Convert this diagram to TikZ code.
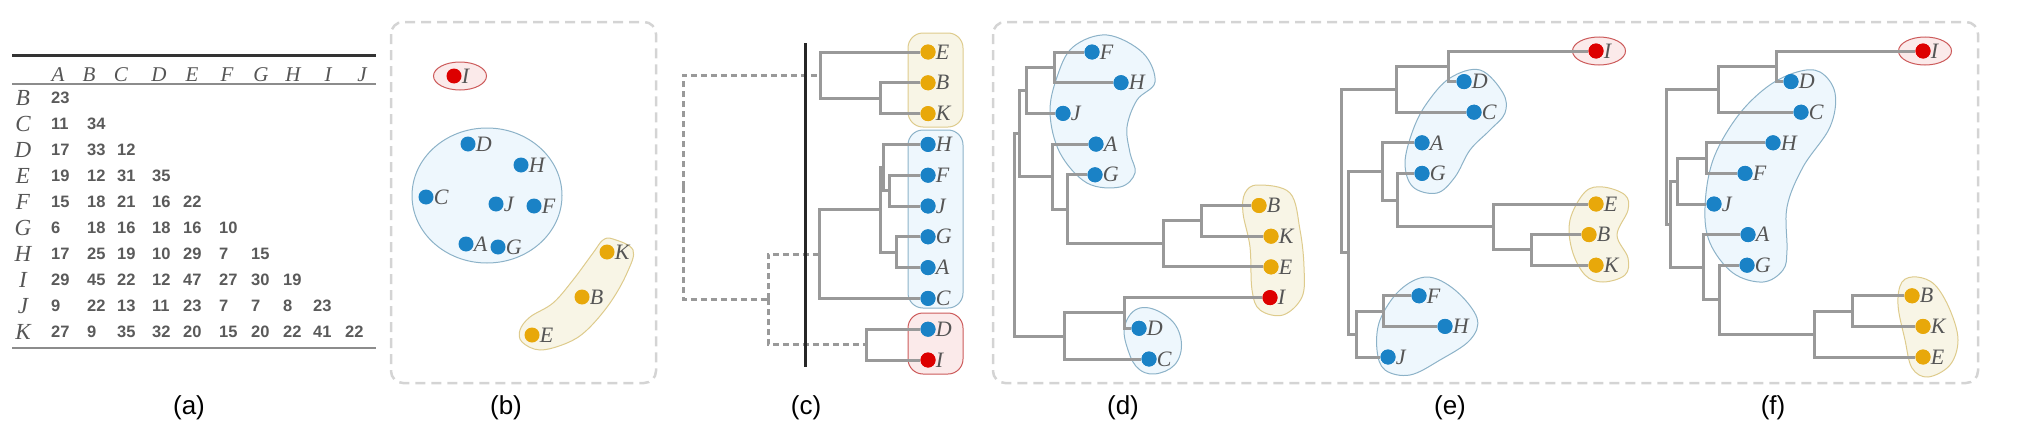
\documentclass[tikz,border=0pt]{standalone}
\usepackage{fontspec}
\setmainfont{Liberation Serif}
\newfontfamily\sansf{Liberation Sans}
\usetikzlibrary{calc}
\definecolor{dotblue}{HTML}{1A82C6}
\definecolor{dotyellow}{HTML}{E8A80A}
\definecolor{dotred}{HTML}{DD0000}
\definecolor{lettergray}{HTML}{555555}
\definecolor{numgray}{HTML}{5A5A5A}
\definecolor{treegray}{HTML}{999999}
\definecolor{boxgray}{HTML}{D4D4D4}
\definecolor{blobblue}{HTML}{EEF7FD}
\definecolor{blobblueedge}{HTML}{8CB2C8}
\definecolor{blobyellow}{HTML}{F8F5E6}
\definecolor{blobyellowedge}{HTML}{DECB8C}
\definecolor{blobred}{HTML}{FBEAEA}
\definecolor{blobrededge}{HTML}{CC5A5A}
\tikzset{
  leaf/.style={circle, inner sep=0pt, minimum size=15pt, label distance=2.5pt, label={[lbl]0:#1}},
  lbl/.style={inner sep=0pt, font=\fontsize{22}{22}\selectfont\itshape, text=lettergray},
  bl/.style={fill=dotblue}, yl/.style={fill=dotyellow}, rd/.style={fill=dotred},
  treeline/.style={draw=treegray, line width=3pt},
  dtree/.style={treeline, dash pattern=on 6pt off 4pt},
  panelbox/.style={draw=boxgray, line width=2.5pt, dash pattern=on 10pt off 6pt, rounded corners=12pt},
  bblob/.style={fill=blobblue, draw=blobblueedge, line width=1pt},
  yblob/.style={fill=blobyellow, draw=blobyellowedge, line width=1pt},
  rblob/.style={fill=blobred, draw=blobrededge, line width=1pt},
  hdr/.style={inner sep=0pt, font=\fontsize{21}{21}\selectfont\itshape, text=lettergray},
  rowlbl/.style={inner sep=0pt, font=\fontsize{23}{23}\selectfont\itshape, text=lettergray},
  num/.style={inner sep=0pt, anchor=west, font={\sansf\bfseries\fontsize{16.5}{16.5}\selectfont}, text=numgray},
  captxt/.style={inner sep=0pt, font={\sansf\fontsize{26}{26}\selectfont}, text=black}
}
\begin{document}
\begin{tikzpicture}[x=1pt,y=-1pt]
\useasboundingbox (0,0) rectangle (2024,447);

% ---------------- (a) table ----------------
\draw[line width=3pt, draw=black!80] (12,55) -- (376,55);
\draw[line width=1.5pt, draw=black!45] (12,84) -- (376,84);
\draw[line width=2pt, draw=black!45] (12,348) -- (376,348);
\foreach \L/\x in {A/58,B/89,C/121,D/159,E/192,F/227,G/261,H/293,I/328,J/362}
  \node[hdr] (h-\L) at (\x,75) {\L};
\foreach \r/\y/\vals in {B/98/{23}, C/124/{11,34}, D/150/{17,33,12}, E/176/{19,12,31,35},
   F/202/{15,18,21,16,22}, G/228/{6,18,16,18,16,10}, H/254/{17,25,19,10,29,7,15},
   I/280/{29,45,22,12,47,27,30,19}, J/306/{9,22,13,11,23,7,7,8,23},
   K/332/{27,9,35,32,20,15,20,22,41,22}} {
  \node[rowlbl] (r-\r) at (23,\y) {\r};
  \foreach \v [count=\c] in \vals {
    \pgfmathsetmacro\xx{{51,87,117,152,183,219,251,283,313,345}[\c-1]}
    \node[num] (t-\r-\c) at (\xx,\y) {\v};
  }
}

% ---------------- boxes ----------------
\draw[panelbox] (391,22) rectangle (656,383);
\draw[panelbox] (993,22) rectangle (1978,383);

% ---------------- (b) ----------------
\draw[rblob] (460,76) ellipse [x radius=26.5, y radius=14];
\draw[bblob] (487,195.5) ellipse [x radius=75, y radius=67.5];
\draw[yblob] plot[smooth cycle, tension=0.6] coordinates {(613,239) (633,250) (627,273) (610,303) (587,330) (567,343) (540,350) (522,342) (520,330) (530,317) (553,303) (573,280) (593,253) (603,240)};
\node[leaf=I, rd] (b-I) at (454,76) {};
\node[leaf=D, bl] (b-D) at (468,144) {};
\node[leaf=H, bl] (b-H) at (521,165) {};
\node[leaf=C, bl] (b-C) at (426,197) {};
\node[leaf=J, bl] (b-J) at (496,204) {};
\node[leaf=F, bl] (b-F) at (534,206) {};
\node[leaf=A, bl] (b-A) at (466,244) {};
\node[leaf=G, bl] (b-G) at (498,247) {};
\node[leaf=K, yl] (b-K) at (607,252) {};
\node[leaf=B, yl] (b-B) at (582,297) {};
\node[leaf=E, yl] (b-E) at (532,335) {};

% ---------------- (c) ----------------
\draw[yblob, rounded corners=15pt] (908,33) rectangle (963,127);
\draw[bblob, rounded corners=15pt] (908,130) rectangle (963,308);
\draw[rblob, rounded corners=15pt] (908,313) rectangle (963,374);
\node[leaf=E, yl] (c-E) at (928,52) {};
\node[leaf=B, yl] (c-B) at (928,82.8) {};
\node[leaf=K, yl] (c-K) at (928,113.6) {};
\node[leaf=H, bl] (c-H) at (928,144.4) {};
\node[leaf=F, bl] (c-F) at (928,175.2) {};
\node[leaf=J, bl] (c-J) at (928,206) {};
\node[leaf=G, bl] (c-G) at (928,236.8) {};
\node[leaf=A, bl] (c-A) at (928,267.6) {};
\node[leaf=C, bl] (c-C) at (928,298.4) {};
\node[leaf=D, bl] (c-D) at (928,329.2) {};
\node[leaf=I, rd] (c-I) at (928,360) {};
\coordinate (cBK) at (880,98.2);
\coordinate (cEBK) at (820,75.1);
\coordinate (cFJ) at (889,190.6);
\coordinate (cHFJ) at (883,167.5);
\coordinate (cGA) at (896,252.2);
\coordinate (cHA) at (880,209.85);
\coordinate (cBlue) at (819,254.1);
\coordinate (cDI) at (866,344.6);
\coordinate (cLow) at (768,299.35);
\coordinate (cR) at (683,187.2);
\coordinate (cTop) at (805,43);
\coordinate (cBot) at (805,367);
\draw[dtree] (cR) |- (cEBK);
\draw[dtree] (cR) |- (cLow);
\draw[dtree] (cLow) |- (cBlue);
\draw[dtree] (cLow) |- (cDI);
\draw[treeline] (cBK) |- (c-B); \draw[treeline] (cBK) |- (c-K);
\draw[treeline] (cEBK) |- (c-E); \draw[treeline] (cEBK) |- (cBK);
\draw[treeline] (cFJ) |- (c-F); \draw[treeline] (cFJ) |- (c-J);
\draw[treeline] (cHFJ) |- (c-H); \draw[treeline] (cHFJ) |- (cFJ);
\draw[treeline] (cGA) |- (c-G); \draw[treeline] (cGA) |- (c-A);
\draw[treeline] (cHA) |- (cHFJ); \draw[treeline] (cHA) |- (cGA);
\draw[treeline] (cBlue) |- (cHA); \draw[treeline] (cBlue) |- (c-C);
\draw[treeline] (cDI) |- (c-D); \draw[treeline] (cDI) |- (c-I);
\draw[line width=3pt, draw=black!85] (cTop) -- (cBot);
\foreach \n in {E,B,K} \fill[dotyellow] (c-\n) circle (7.5);
\foreach \n in {H,F,J,G,A,C,D} \fill[dotblue] (c-\n) circle (7.5);
\fill[dotred] (c-I) circle (7.5);

% ---------------- (d) ----------------
\draw[bblob] plot[smooth cycle, tension=0.6] coordinates {(1107,35) (1143,53) (1155,82) (1137,100) (1127,127) (1130,153) (1135,173) (1120,187) (1087,183) (1060,153) (1050,113) (1057,77) (1073,47)};
\draw[yblob] plot[smooth cycle, tension=0.6] coordinates {(1258,185) (1290,193) (1300,230) (1304,267) (1302,297) (1283,315) (1260,310) (1252,290) (1250,247) (1243,213) (1245,193)};
\draw[bblob] plot[smooth cycle, tension=0.7] coordinates {(1140,308) (1165,315) (1180,335) (1178,360) (1160,373) (1140,370) (1128,350) (1125,325)};
\coordinate (dFH) at (1054,67.35);
\coordinate (dFHJ) at (1026,90.4);
\coordinate (dBK) at (1201,220.85);
\coordinate (dBKE) at (1163,243.9);
\coordinate (dGBKE) at (1067,209.35);
\coordinate (dAG) at (1052,176.7);
\coordinate (dTop) at (1019,133.55);
\coordinate (dDI) at (1124,312.95);
\coordinate (dDIC) at (1064,336);
\coordinate (dRoot) at (1014,234.8);
\node[leaf=F, bl] (d-F) at (1092,52) {};
\node[leaf=H, bl] (d-H) at (1121,82.7) {};
\node[leaf=J, bl] (d-J) at (1063,113.4) {};
\node[leaf=A, bl] (d-A) at (1096,144.1) {};
\node[leaf=G, bl] (d-G) at (1095,174.8) {};
\node[leaf=B, yl] (d-B) at (1259,205.5) {};
\node[leaf=K, yl] (d-K) at (1271,236.2) {};
\node[leaf=E, yl] (d-E) at (1271,266.9) {};
\node[leaf=I, rd] (d-I) at (1270,297.6) {};
\node[leaf=D, bl] (d-D) at (1139,328.3) {};
\node[leaf=C, bl] (d-C) at (1149,359) {};
\draw[treeline] (dFH) |- (d-F); \draw[treeline] (dFH) |- (d-H);
\draw[treeline] (dFHJ) |- (dFH); \draw[treeline] (dFHJ) |- (d-J);
\draw[treeline] (dBK) |- (d-B); \draw[treeline] (dBK) |- (d-K);
\draw[treeline] (dBKE) |- (dBK); \draw[treeline] (dBKE) |- (d-E);
\draw[treeline] (dGBKE) |- (d-G); \draw[treeline] (dGBKE) |- (dBKE);
\draw[treeline] (dAG) |- (d-A); \draw[treeline] (dAG) |- (dGBKE);
\draw[treeline] (dTop) |- (dFHJ); \draw[treeline] (dTop) |- (dAG);
\draw[treeline] (dDI) |- (d-I); \draw[treeline] (dDI) |- (d-D);
\draw[treeline] (dDIC) |- (dDI); \draw[treeline] (dDIC) |- (d-C);
\draw[treeline] (dRoot) |- (dTop); \draw[treeline] (dRoot) |- (dDIC);
\foreach \n in {F,H,J,A,G,D,C} \fill[dotblue] (d-\n) circle (7.5);
\foreach \n in {B,K,E} \fill[dotyellow] (d-\n) circle (7.5);
\fill[dotred] (d-I) circle (7.5);

% ---------------- (e) ----------------
\draw[rblob] (1599,51) ellipse [x radius=26.5, y radius=14];
\draw[bblob] plot[smooth cycle, tension=0.6] coordinates {(1480,70) (1503,93) (1505,113) (1490,130) (1470,150) (1455,177) (1437,193) (1413,187) (1405,163) (1413,130) (1427,103) (1450,78)};
\draw[yblob] plot[smooth cycle, tension=0.6] coordinates {(1603,187) (1625,195) (1628,210) (1617,235) (1628,258) (1625,275) (1603,282) (1585,275) (1572,250) (1570,220) (1585,192)};
\draw[bblob] plot[smooth cycle, tension=0.6] coordinates {(1427,277) (1455,290) (1477,318) (1470,340) (1440,360) (1410,375) (1385,370) (1377,350) (1380,320) (1400,290)};
\coordinate (eDI) at (1448,66.3);
\coordinate (eDIC) at (1396,89.25);
\coordinate (eBK) at (1531,249.9);
\coordinate (eEBK) at (1493,226.95);
\coordinate (eG) at (1397,200.2);
\coordinate (eA) at (1382,171.5);
\coordinate (eFH) at (1383,311.1);
\coordinate (eFHJ) at (1356,334.05);
\coordinate (eX) at (1348,252.8);
\coordinate (eRoot) at (1341,171);
\node[leaf=I, rd] (e-I) at (1596,51) {};
\node[leaf=D, bl] (e-D) at (1464,81.6) {};
\node[leaf=C, bl] (e-C) at (1474,112.2) {};
\node[leaf=A, bl] (e-A) at (1422,142.8) {};
\node[leaf=G, bl] (e-G) at (1422,173.4) {};
\node[leaf=E, yl] (e-E) at (1596,204) {};
\node[leaf=B, yl] (e-B) at (1589,234.6) {};
\node[leaf=K, yl] (e-K) at (1596,265.2) {};
\node[leaf=F, bl] (e-F) at (1419,295.8) {};
\node[leaf=H, bl] (e-H) at (1445,326.4) {};
\node[leaf=J, bl] (e-J) at (1388,357) {};
\draw[treeline] (eDI) |- (e-I); \draw[treeline] (eDI) |- (e-D);
\draw[treeline] (eDIC) |- (eDI); \draw[treeline] (eDIC) |- (e-C);
\draw[treeline] (eBK) |- (e-B); \draw[treeline] (eBK) |- (e-K);
\draw[treeline] (eEBK) |- (e-E); \draw[treeline] (eEBK) |- (eBK);
\draw[treeline] (eG) |- (e-G); \draw[treeline] (eG) |- (eEBK);
\draw[treeline] (eA) |- (e-A); \draw[treeline] (eA) |- (eG);
\draw[treeline] (eFH) |- (e-F); \draw[treeline] (eFH) |- (e-H);
\draw[treeline] (eFHJ) |- (eFH); \draw[treeline] (eFHJ) |- (e-J);
\draw[treeline] (eX) |- (eA); \draw[treeline] (eX) |- (eFHJ);
\draw[treeline] (eRoot) |- (eDIC); \draw[treeline] (eRoot) |- (eX);
\foreach \n in {D,C,A,G,F,H,J} \fill[dotblue] (e-\n) circle (7.5);
\foreach \n in {E,B,K} \fill[dotyellow] (e-\n) circle (7.5);
\fill[dotred] (e-I) circle (7.5);

% ---------------- (f) ----------------
\draw[rblob] (1925,51) ellipse [x radius=26.5, y radius=14];
\draw[bblob] plot[smooth cycle, tension=0.6] coordinates {(1820,72) (1835,93) (1830,127) (1803,167) (1787,207) (1787,250) (1783,270) (1763,282) (1733,273) (1710,243) (1705,207) (1713,160) (1737,117) (1767,87) (1797,72)};
\draw[yblob] plot[smooth cycle, tension=0.6] coordinates {(1917,277) (1935,285) (1950,310) (1958,340) (1950,365) (1928,377) (1912,368) (1905,340) (1898,305) (1902,282)};
\coordinate (fDI) at (1776,66.3);
\coordinate (fDIC) at (1718,89.25);
\coordinate (fHF) at (1706,158.1);
\coordinate (fHFJ) at (1677,181.05);
\coordinate (fBK) at (1852,311.1);
\coordinate (fBKE) at (1814,334.05);
\coordinate (fG) at (1719,299.6);
\coordinate (fA) at (1703,267.1);
\coordinate (fY) at (1670,224.1);
\coordinate (fRoot) at (1666,156.7);
\node[leaf=I, rd] (f-I) at (1923,51) {};
\node[leaf=D, bl] (f-D) at (1791,81.6) {};
\node[leaf=C, bl] (f-C) at (1801,112.2) {};
\node[leaf=H, bl] (f-H) at (1773,142.8) {};
\node[leaf=F, bl] (f-F) at (1745,173.4) {};
\node[leaf=J, bl] (f-J) at (1714,204) {};
\node[leaf=A, bl] (f-A) at (1748,234.6) {};
\node[leaf=G, bl] (f-G) at (1747,265.2) {};
\node[leaf=B, yl] (f-B) at (1912,295.8) {};
\node[leaf=K, yl] (f-K) at (1923,326.4) {};
\node[leaf=E, yl] (f-E) at (1923,357) {};
\draw[treeline] (fDI) |- (f-I); \draw[treeline] (fDI) |- (f-D);
\draw[treeline] (fDIC) |- (fDI); \draw[treeline] (fDIC) |- (f-C);
\draw[treeline] (fHF) |- (f-H); \draw[treeline] (fHF) |- (f-F);
\draw[treeline] (fHFJ) |- (fHF); \draw[treeline] (fHFJ) |- (f-J);
\draw[treeline] (fBK) |- (f-B); \draw[treeline] (fBK) |- (f-K);
\draw[treeline] (fBKE) |- (fBK); \draw[treeline] (fBKE) |- (f-E);
\draw[treeline] (fG) |- (f-G); \draw[treeline] (fG) |- (fBKE);
\draw[treeline] (fA) |- (f-A); \draw[treeline] (fA) |- (fG);
\draw[treeline] (fY) |- (fHFJ); \draw[treeline] (fY) |- (fA);
\draw[treeline] (fRoot) |- (fDIC); \draw[treeline] (fRoot) |- (fY);
\foreach \n in {D,C,H,F,J,A,G} \fill[dotblue] (f-\n) circle (7.5);
\foreach \n in {B,K,E} \fill[dotyellow] (f-\n) circle (7.5);
\fill[dotred] (f-I) circle (7.5);

% ---------------- captions ----------------
\node[captxt] (cap-a) at (189,408) {(a)};
\node[captxt] (cap-b) at (506,408) {(b)};
\node[captxt] (cap-c) at (806,408) {(c)};
\node[captxt] (cap-d) at (1123,408) {(d)};
\node[captxt] (cap-e) at (1450,408) {(e)};
\node[captxt] (cap-f) at (1773,408) {(f)};
\end{tikzpicture}
\end{document}
